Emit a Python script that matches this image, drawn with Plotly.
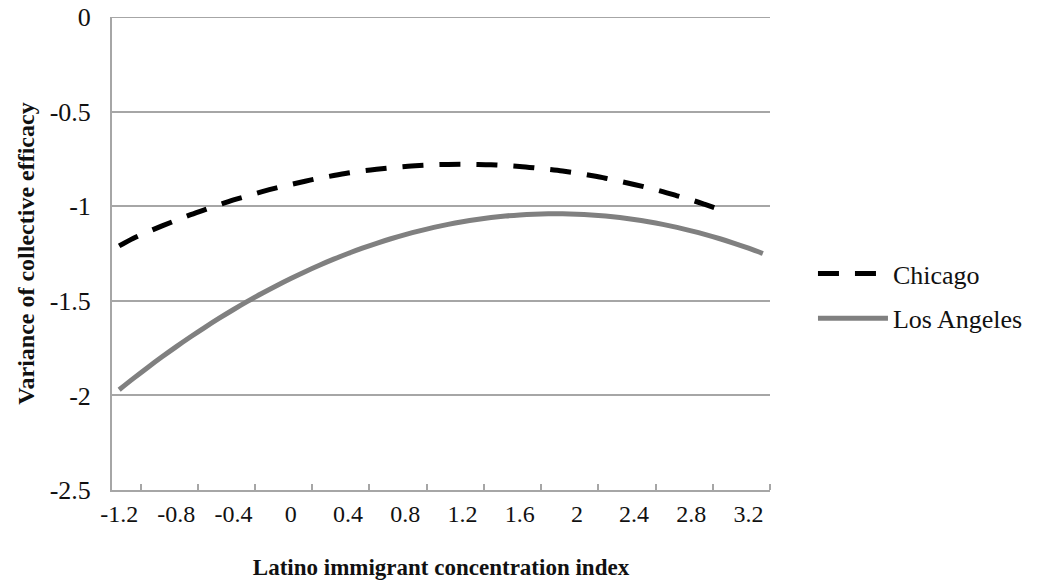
import plotly.graph_objects as go

# x categories (Latino immigrant concentration index)
chicago_x = [round(-1.2 + 0.1 * i, 1) for i in range(43)]   # -1.2 .. 3.0
la_x = [round(-1.2 + 0.1 * i, 1) for i in range(46)]        # -1.2 .. 3.3

chicago_y = [-1.210, -1.169, -1.136, -1.104, -1.074, -1.045, -1.018, -0.992, -0.967, -0.945,
             -0.923, -0.903, -0.885, -0.868, -0.852, -0.838, -0.825, -0.814, -0.805, -0.797,
             -0.790, -0.785, -0.781, -0.779, -0.778, -0.779, -0.781, -0.785, -0.790, -0.797,
             -0.805, -0.814, -0.825, -0.838, -0.852, -0.868, -0.885, -0.903, -0.923, -0.945,
             -0.967, -0.992, -1.018]

la_y = [-1.970, -1.910, -1.852, -1.796, -1.742, -1.690, -1.640, -1.592, -1.546, -1.502,
        -1.460, -1.420, -1.382, -1.346, -1.312, -1.280, -1.250, -1.222, -1.196, -1.172,
        -1.150, -1.130, -1.112, -1.096, -1.082, -1.070, -1.060, -1.052, -1.046, -1.042,
        -1.040, -1.040, -1.042, -1.046, -1.052, -1.060, -1.070, -1.082, -1.096, -1.112,
        -1.130, -1.150, -1.172, -1.196, -1.222, -1.250]

x_tick_vals = [-1.2, -0.8, -0.4, 0, 0.4, 0.8, 1.2, 1.6, 2, 2.4, 2.8, 3.2]
x_tick_text = ["-1.2", "-0.8", "-0.4", "0", "0.4", "0.8", "1.2", "1.6", "2", "2.4", "2.8", "3.2"]
y_tick_vals = [0, -0.5, -1, -1.5, -2, -2.5]
y_tick_text = ["0", "-0.5", "-1", "-1.5", "-2", "-2.5"]

FONT = "Liberation Serif, Times New Roman, serif"
GRID = "#a6a6a6"

fig = go.Figure()
fig.add_trace(go.Scatter(
    x=chicago_x, y=chicago_y, mode="lines", name="Chicago", legendgroup="a",
    line=dict(color="black", width=5, dash="21px,16px", shape="spline"),
))
fig.add_trace(go.Scatter(
    x=la_x, y=la_y, mode="lines", name="Los Angeles", legendgroup="b",
    line=dict(color="#808080", width=5, shape="spline"),
))

minor_ticks = [round(-1.05 + 0.4 * i, 2) for i in range(12)]

fig.update_layout(
    width=1042, height=583,
    margin=dict(l=112, r=272, t=17, b=93),
    paper_bgcolor="white", plot_bgcolor="white",
    font=dict(family=FONT, size=25, color="#111"),
    showlegend=True,
    legend=dict(
        xref="container", yref="container",
        x=0.7802, y=0.5712, xanchor="left", yanchor="top",
        font=dict(family=FONT, size=26, color="#111"),
        tracegroupgap=8, traceorder="grouped", itemwidth=70,
        bgcolor="rgba(0,0,0,0)",
    ),
    xaxis=dict(
        range=[-1.25, 3.35], tickmode="array", tickvals=x_tick_vals, ticktext=x_tick_text,
        ticks="", showgrid=False, zeroline=False, automargin=False,
        showline=True, linecolor=GRID, linewidth=2,
        ticklabelstandoff=1, ticklabeloverflow="allow",
        tickfont=dict(family=FONT, size=24, color="#111"),
        minor=dict(tickmode="array", tickvals=minor_ticks, ticks="inside", ticklen=6,
                   tickcolor=GRID, tickwidth=1.5, showgrid=False),
        title=dict(text="<b>Latino immigrant concentration index</b>",
                   font=dict(family=FONT, size=23, color="#111"), standoff=33),
    ),
    yaxis=dict(
        range=[-2.5, 0], tickmode="array", tickvals=y_tick_vals, ticktext=y_tick_text,
        ticks="", showgrid=True, gridcolor=GRID, gridwidth=1.5,
        zeroline=False, automargin=False,
        showline=True, linecolor=GRID, linewidth=2,
        ticklabelstandoff=14, ticklabeloverflow="allow",
        tickfont=dict(family=FONT, size=26, color="#111"),
        title=dict(text="<b>Variance of collective efficacy</b>",
                   font=dict(family=FONT, size=24, color="#111"), standoff=8),
    ),
    shapes=[dict(type="line", xref="paper", yref="y", x0=0, x1=1, y0=0, y1=0,
                 line=dict(color=GRID, width=2), layer="below")],
)

fig.write_html("out.html", config={"displayModeBar": False},
               post_script="document.body.style.margin='0px';")
